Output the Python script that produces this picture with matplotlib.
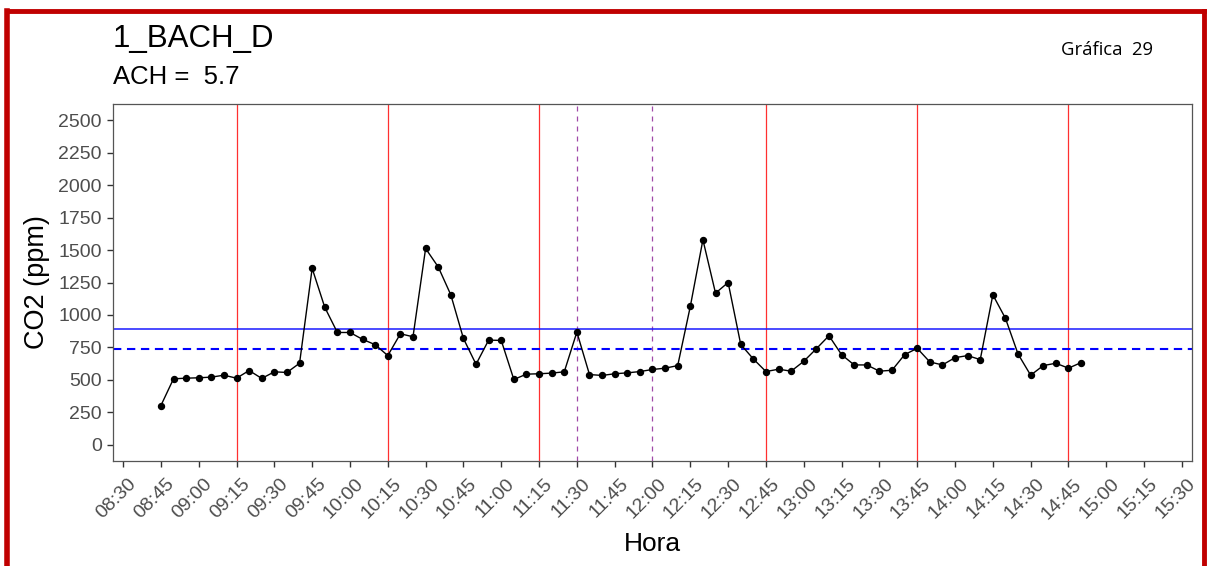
import numpy as np
import matplotlib
matplotlib.use("Agg")
import matplotlib.pyplot as plt
import matplotlib.transforms as mtransforms
from matplotlib.lines import Line2D

plt.rcParams['font.family'] = ['Liberation Sans', 'DejaVu Sans']

# minutes since 08:45, every 5 minutes up to 14:50
start_min = 8 * 60 + 45
co2 = [302, 508, 513, 516, 521, 536, 513, 572, 511, 562,
       557, 628, 1359, 1059, 865, 865, 812, 771, 687, 855,
       832, 1512, 1370, 1155, 819, 620, 806, 804, 503, 544,
       547, 552, 562, 868, 541, 534, 547, 554, 564, 580,
       590, 610, 1066, 1579, 1168, 1250, 773, 661, 564, 582,
       567, 643, 740, 840, 694, 615, 615, 567, 574, 694,
       743, 638, 615, 671, 687, 656, 1155, 974, 699, 536,
       610, 628, 590, 633]
times = [start_min + 5 * i for i in range(len(co2))]

mean_line = 888
dash_line = 740
red_lines = ["09:15", "10:15", "11:15", "12:45", "13:45", "14:45"]
purple_lines = ["11:30", "12:00"]
tick_labels = ["%02d:%02d" % (h, m) for h in range(8, 16) for m in (0, 15, 30, 45)]
tick_labels = [t for t in tick_labels if "08:30" <= t <= "15:30"]


def to_min(s):
    h, m = s.split(":")
    return int(h) * 60 + int(m)


fig = plt.figure(figsize=(12.07, 5.66), dpi=100)
ax = fig.add_axes([113 / 1207, 105 / 566, 1079 / 1207, 357 / 566])

for t in red_lines:
    ax.axvline(to_min(t), color="#ff3030", lw=0.9, zorder=1)
for t in purple_lines:
    ax.axvline(to_min(t), color="#a04aa8", lw=0.9, dashes=(4, 4), zorder=1)

ax.axhline(mean_line, color="#1a1aff", lw=1.1, zorder=2)
ax.axhline(dash_line, color="#0000ff", lw=1.5, dashes=(4, 2.7), zorder=2)

ax.plot(times, co2, color="black", lw=1.0, marker="o", ms=4.3, zorder=3)

ax.set_xlim(to_min("08:30") - 4, to_min("15:30") + 4)
ax.set_ylim(-125, 2625)
ax.set_yticks(np.arange(0, 2501, 250))
ax.set_xticks([to_min(t) for t in tick_labels])
ax.set_xticklabels(tick_labels, rotation=45, ha="right", rotation_mode="anchor")

ax.tick_params(axis="both", colors="#333333", length=4.5, width=1.0,
               labelsize=14, labelcolor="#4d4d4d")
ax.tick_params(axis="x", pad=6)
shift = mtransforms.ScaledTranslation(5 / 100, 0, fig.dpi_scale_trans)
for lab in ax.get_xticklabels():
    lab.set_transform(lab.get_transform() + shift)
for sp in ax.spines.values():
    sp.set_color("#555555")
    sp.set_linewidth(0.9)

ax.set_xlabel("Hora", fontsize=19)
ax.set_ylabel("CO2 (ppm)", fontsize=19.5)
ax.xaxis.set_label_coords(0.5, -0.2)
ax.yaxis.set_label_coords(-0.058, 0.5)

fig.text(113 / 1207, 1 - 47 / 566, "1_BACH_D", fontsize=22.5, va="baseline")
fig.text(113 / 1207, 1 - 84 / 566, "ACH =  5.7", fontsize=18.5, va="baseline")
fig.text(1061 / 1207, 1 - 55 / 566, "Gráfica  29", fontsize=13.3,
         family=["Open Sans", "DejaVu Sans"], va="baseline")

# red frame around the figure
frame = "#c00000"
W, H = 1207, 566
fig.add_artist(Line2D([7 / W, 7 / W], [0, 1 - 11 / H], color=frame, lw=4,
                      transform=fig.transFigure))
fig.add_artist(Line2D([7 / W, 1204 / W], [1 - 11 / H, 1 - 11 / H], color=frame, lw=3.5,
                      transform=fig.transFigure, solid_capstyle="projecting"))
fig.add_artist(Line2D([1204 / W, 1204 / W], [0, 1 - 11 / H], color=frame, lw=3.5,
                      transform=fig.transFigure))

fig.savefig("out.png", dpi=100)
